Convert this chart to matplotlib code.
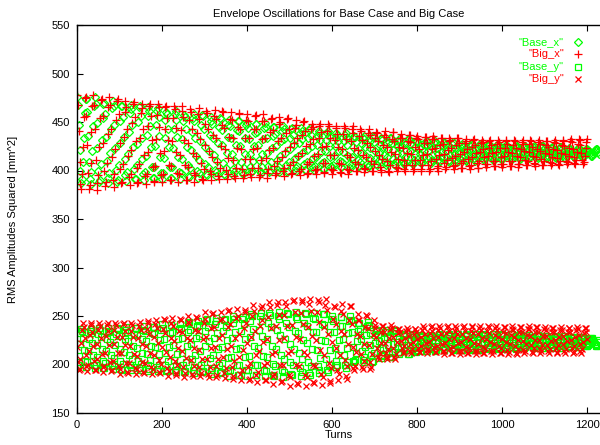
import numpy as np
import matplotlib
matplotlib.use('Agg')
import matplotlib.pyplot as plt

plt.rcParams['font.family'] = ['Liberation Sans', 'DejaVu Sans']

# RMS amplitude squared [mm^2].
# *_a lists: turns 0, 4, 8, ...   *_b lists: turns 2, 6, 10, ...
big_x_a = [
    478, 441, 386, 396, 455, 476, 426, 381, 408, 467, 468, 411, 380, 424, 473, 456, 400, 388, 438, 476, 443, 390, 396, 452, 474,
    428, 387, 407, 460, 465, 415, 385, 421, 469, 455, 403, 388, 434, 469, 443, 394, 396, 446, 469, 431, 388, 405, 457, 465, 418,
    388, 420, 465, 454, 406, 390, 430, 466, 444, 397, 396, 442, 467, 431, 390, 404, 452, 460, 418, 388, 415, 458, 453, 408, 390,
    426, 461, 443, 399, 396, 437, 462, 433, 394, 403, 447, 460, 422, 391, 413, 453, 452, 411, 392, 423, 459, 443, 402, 395, 434,
    458, 433, 396, 403, 443, 457, 423, 393, 411, 451, 451, 413, 392, 421, 453, 442, 405, 397, 430, 455, 434, 399, 403, 439, 454,
    424, 396, 409, 444, 447, 415, 395, 418, 450, 441, 407, 397, 427, 448, 432, 401, 402, 434, 448, 424, 397, 408, 441, 446, 416,
    396, 416, 444, 438, 408, 397, 422, 446, 432, 402, 401, 430, 446, 423, 399, 407, 436, 441, 416, 398, 414, 439, 437, 410, 399,
    420, 440, 430, 404, 401, 426, 441, 424, 400, 406, 432, 440, 417, 400, 412, 434, 434, 411, 400, 418, 437, 429, 406, 402, 424,
    436, 422, 402, 406, 428, 435, 417, 400, 410, 432, 432, 412, 400, 416, 433, 427, 408, 404, 421, 434, 423, 405, 406, 426, 433,
    417, 403, 410, 428, 430, 412, 402, 414, 431, 426, 408, 403, 419, 431, 422, 407, 407, 423, 431, 418, 405, 410, 427, 429, 414,
    404, 415, 430, 427, 410, 405, 418, 431, 423, 407, 407, 422, 431, 420, 406, 410, 427, 430, 415, 405, 414, 429, 427, 412, 406,
    418, 430, 424, 409, 408, 422, 431, 421, 407, 410, 426, 430, 417, 407, 415, 430, 429, 414, 407, 419, 432, 426, 411, 409, 423,
    432,
]
big_x_b = [
    468, 409, 381, 424, 475, 456, 397, 385, 440, 478, 443, 387, 395, 454, 474, 428, 384, 408, 465, 468, 414, 383, 422, 472, 458,
    402, 388, 435, 472, 443, 393, 396, 449, 471, 430, 387, 407, 459, 464, 416, 386, 419, 466, 456, 404, 389, 432, 469, 445, 395,
    396, 443, 466, 431, 390, 405, 454, 463, 419, 388, 416, 461, 455, 406, 390, 428, 463, 443, 397, 395, 439, 464, 432, 391, 402,
    448, 459, 420, 390, 414, 456, 453, 409, 391, 425, 461, 444, 401, 396, 435, 460, 433, 394, 403, 445, 458, 422, 392, 412, 452,
    451, 412, 393, 422, 456, 443, 403, 395, 432, 458, 434, 397, 402, 440, 454, 423, 395, 410, 448, 450, 414, 394, 420, 453, 443,
    406, 397, 428, 452, 433, 400, 402, 437, 451, 425, 396, 409, 443, 445, 415, 396, 417, 446, 440, 408, 398, 425, 448, 433, 402,
    401, 431, 446, 424, 398, 407, 438, 444, 416, 396, 414, 443, 439, 409, 399, 421, 443, 431, 403, 402, 428, 443, 424, 400, 407,
    433, 439, 416, 398, 412, 437, 435, 410, 398, 419, 440, 430, 404, 403, 424, 438, 423, 402, 406, 430, 437, 417, 400, 411, 434,
    432, 411, 400, 416, 435, 428, 406, 402, 422, 436, 423, 403, 405, 426, 433, 417, 402, 411, 430, 431, 413, 402, 415, 433, 428,
    408, 403, 419, 432, 422, 405, 406, 424, 432, 418, 403, 410, 428, 429, 414, 404, 415, 430, 426, 410, 405, 419, 431, 423, 407,
    407, 423, 431, 419, 405, 410, 426, 430, 415, 404, 414, 429, 427, 411, 406, 419, 431, 424, 408, 407, 422, 431, 420, 406, 410,
    426, 430, 417, 406, 414, 429, 428, 413, 406, 418, 431, 425, 410, 409, 423, 432, 422, 408, 411, 427, 431, 418, 407, 415, 429,
]

base_x_a = [
    476, 447, 399, 391, 434, 474, 460, 409, 386, 420, 467, 469, 423, 388, 407, 454, 470, 435, 392, 397, 443, 472, 447, 401, 390,
    428, 466, 455, 412, 389, 417, 459, 463, 424, 391, 406, 450, 467, 434, 396, 398, 437, 465, 446, 404, 392, 425, 461, 455, 414,
    391, 413, 452, 458, 424, 392, 404, 443, 461, 435, 398, 397, 432, 457, 443, 406, 393, 421, 454, 451, 415, 392, 411, 447, 456,
    424, 396, 404, 437, 455, 434, 401, 398, 428, 454, 442, 408, 395, 418, 447, 446, 417, 395, 410, 442, 451, 425, 398, 403, 434,
    449, 432, 404, 400, 425, 448, 440, 411, 397, 417, 444, 445, 418, 398, 409, 436, 445, 425, 401, 404, 430, 446, 432, 406, 399,
    422, 443, 437, 413, 400, 415, 439, 441, 419, 401, 409, 434, 444, 425, 404, 405, 426, 441, 431, 408, 402, 420, 439, 436, 414,
    403, 415, 434, 437, 420, 404, 409, 430, 439, 426, 407, 406, 424, 436, 429, 411, 405, 418, 434, 432, 415, 404, 413, 431, 435,
    420, 407, 410, 426, 434, 424, 409, 408, 422, 433, 428, 412, 406, 417, 430, 430, 417, 407, 414, 428, 432, 420, 408, 411, 424,
    430, 423, 411, 409, 420, 430, 426, 414, 408, 416, 428, 428, 417, 409, 414, 425, 429, 420, 410, 411, 422, 429, 423, 412, 410,
    418, 426, 424, 415, 410, 416, 425, 426, 417, 410, 414, 423, 427, 420, 412, 413, 421, 427, 423, 414, 411, 419, 426, 425, 416,
    412, 416, 424, 425, 419, 412, 415, 422, 426, 421, 413, 413, 420, 425, 422, 416, 413, 418, 424, 424, 417, 413, 416, 423, 425,
    418, 413, 415, 421, 424, 420, 414, 414, 419, 424, 422, 416, 413, 418, 422, 422, 417, 414, 416, 421, 423, 419, 414, 415, 420,
    422, 420, 416, 415, 419, 422, 421, 417,
]
base_x_b = [
    468, 421, 387, 409, 459, 474, 436, 391, 398, 446, 476, 449, 400, 390, 431, 469, 458, 410, 387, 418, 464, 466, 423, 388, 406,
    451, 467, 435, 395, 398, 440, 468, 447, 402, 391, 427, 465, 456, 412, 390, 415, 456, 461, 424, 392, 404, 447, 464, 436, 397,
    397, 434, 460, 443, 404, 392, 423, 458, 452, 414, 391, 412, 451, 455, 424, 394, 403, 440, 458, 434, 399, 397, 430, 457, 443,
    407, 395, 420, 451, 448, 416, 394, 410, 445, 453, 426, 396, 403, 435, 452, 433, 402, 398, 426, 451, 441, 409, 396, 417, 447,
    444, 417, 398, 410, 439, 448, 426, 400, 404, 432, 449, 433, 405, 400, 423, 445, 438, 411, 398, 415, 441, 443, 418, 398, 409,
    434, 444, 426, 403, 405, 428, 444, 432, 407, 401, 421, 442, 437, 413, 401, 414, 436, 439, 419, 402, 409, 431, 441, 425, 405,
    406, 425, 439, 430, 410, 404, 419, 437, 434, 415, 403, 414, 434, 435, 419, 405, 409, 427, 436, 424, 407, 406, 423, 436, 429,
    412, 406, 418, 432, 431, 416, 406, 414, 429, 433, 421, 407, 410, 425, 432, 424, 410, 408, 421, 432, 427, 413, 407, 417, 430,
    428, 417, 408, 414, 426, 430, 420, 409, 411, 423, 430, 423, 411, 410, 419, 428, 426, 414, 409, 416, 427, 428, 417, 409, 413,
    423, 427, 420, 411, 412, 421, 427, 422, 413, 411, 418, 426, 424, 416, 411, 416, 425, 426, 418, 411, 414, 423, 427, 421, 412,
    413, 421, 426, 423, 415, 412, 418, 425, 424, 417, 412, 416, 424, 425, 419, 413, 415, 422, 425, 421, 414, 414, 420, 425, 422,
    415, 413, 418, 423, 423, 417, 413, 416, 422, 424, 419, 413, 415, 420, 423, 420, 415, 414, 419, 423, 421, 416, 414, 418, 422,
    421, 418, 415, 417, 421, 422, 419,
]

big_y_a = [
    218, 194, 206, 236, 239, 210, 193, 214, 241, 234, 204, 194, 221, 243, 227, 197, 198, 229, 243, 220, 193, 204, 236, 241, 212,
    190, 212, 242, 235, 202, 191, 219, 243, 228, 196, 195, 227, 244, 221, 192, 202, 237, 243, 212, 190, 210, 242, 238, 205, 191,
    218, 247, 232, 196, 193, 227, 248, 224, 191, 199, 235, 246, 214, 187, 207, 244, 243, 205, 188, 217, 249, 235, 197, 191, 226,
    254, 228, 190, 197, 238, 253, 218, 187, 206, 246, 247, 208, 186, 216, 255, 242, 197, 188, 227, 257, 231, 190, 194, 238, 256,
    222, 184, 202, 250, 255, 210, 182, 214, 258, 246, 199, 184, 226, 264, 238, 188, 190, 240, 264, 225, 182, 200, 251, 260, 212,
    178, 214, 265, 254, 199, 180, 226, 267, 242, 189, 187, 239, 268, 229, 182, 198, 254, 264, 215, 179, 210, 261, 256, 202, 181,
    223, 260, 242, 194, 190, 235, 262, 231, 188, 198, 246, 260, 218, 194, 213, 246, 246, 211, 195, 221, 251, 238, 203, 197, 230,
    241, 228, 208, 212, 233, 240, 222, 206, 216, 237, 238, 217, 206, 223, 237, 233, 217, 213, 227, 238, 229, 214, 216, 231, 237,
    226, 213, 219, 236, 238, 222, 212, 223, 239, 235, 218, 213, 228, 240, 231, 214, 214, 232, 240, 226, 212, 218, 235, 238, 222,
    211, 223, 239, 235, 218, 212, 226, 240, 232, 214, 214, 231, 240, 227, 212, 217, 235, 239, 223, 211, 221, 238, 236, 219, 212,
    226, 239, 232, 215, 213, 230, 240, 228, 212, 216, 234, 239, 224, 212, 221, 237, 237, 220, 212, 225, 239, 233, 216, 214, 229,
    239, 229, 214, 216, 233, 238, 225, 212, 220, 236, 236, 221, 212, 224, 238, 233, 217, 213, 228, 239, 230, 214, 216, 232, 238,
    226,
]
big_y_b = [
    203, 195, 222, 243, 227, 198, 200, 230, 243, 219, 194, 206, 236, 240, 211, 192, 212, 241, 235, 203, 194, 221, 243, 228, 198,
    195, 228, 243, 220, 192, 202, 235, 241, 211, 190, 209, 240, 236, 203, 191, 219, 245, 231, 197, 195, 228, 246, 222, 192, 201,
    237, 246, 213, 188, 208, 243, 240, 204, 189, 217, 247, 233, 197, 191, 227, 250, 225, 190, 198, 236, 248, 215, 188, 206, 243,
    247, 206, 187, 217, 252, 239, 198, 189, 227, 254, 230, 191, 196, 239, 256, 219, 185, 204, 248, 250, 208, 184, 215, 254, 243,
    197, 185, 228, 261, 235, 189, 192, 240, 260, 223, 184, 202, 249, 259, 211, 180, 213, 261, 251, 199, 183, 227, 264, 240, 189,
    187, 241, 267, 228, 181, 198, 253, 264, 213, 178, 210, 262, 255, 200, 181, 225, 267, 244, 190, 187, 239, 268, 231, 183, 196,
    247, 259, 217, 184, 210, 255, 252, 205, 185, 221, 260, 242, 196, 198, 231, 252, 229, 197, 204, 239, 250, 220, 195, 211, 246,
    238, 217, 206, 222, 240, 233, 212, 208, 227, 241, 228, 208, 211, 232, 237, 224, 212, 219, 235, 236, 221, 212, 223, 237, 233,
    217, 213, 228, 240, 231, 215, 216, 232, 240, 227, 213, 219, 236, 238, 221, 211, 222, 239, 235, 217, 212, 227, 240, 231, 214,
    214, 231, 240, 227, 212, 217, 235, 239, 222, 211, 221, 238, 236, 218, 212, 226, 240, 232, 214, 214, 230, 240, 228, 212, 217,
    234, 239, 223, 211, 221, 237, 236, 219, 211, 225, 239, 233, 215, 214, 230, 240, 229, 213, 217, 234, 239, 225, 212, 220, 237,
    236, 220, 212, 224, 238, 233, 217, 213, 228, 239, 229, 214, 216, 233, 238, 225, 212, 219, 236, 237, 221, 212, 223, 238, 234,
]

base_y_a = [
    196, 209, 232, 235, 215, 197, 203, 226, 237, 222, 200, 199, 220, 238, 228, 204, 196, 214, 235, 233, 210, 195, 207, 231, 237,
    216, 195, 201, 226, 239, 224, 199, 197, 219, 238, 230, 204, 194, 212, 236, 235, 211, 193, 205, 232, 239, 218, 195, 200, 225,
    242, 226, 199, 194, 218, 241, 233, 205, 192, 211, 237, 238, 212, 192, 203, 234, 244, 221, 194, 197, 227, 245, 229, 200, 193,
    219, 246, 239, 207, 190, 210, 242, 245, 216, 191, 202, 235, 247, 225, 193, 194, 227, 250, 234, 199, 189, 217, 247, 242, 208,
    188, 209, 245, 250, 219, 189, 200, 236, 253, 229, 194, 193, 226, 253, 239, 201, 188, 216, 250, 247, 210, 187, 206, 243, 252,
    221, 190, 199, 235, 254, 232, 196, 192, 225, 253, 240, 203, 189, 216, 248, 247, 215, 191, 207, 242, 252, 224, 194, 200, 233,
    250, 233, 204, 199, 225, 249, 240, 210, 196, 217, 245, 246, 218, 203, 212, 235, 243, 226, 205, 208, 230, 244, 232, 210, 204,
    222, 235, 231, 215, 207, 217, 233, 234, 220, 208, 213, 229, 236, 223, 213, 213, 224, 231, 226, 215, 211, 220, 230, 228, 217,
    214, 219, 228, 229, 222, 214, 217, 226, 230, 224, 216, 215, 223, 231, 227, 218, 215, 222, 230, 229, 221, 215, 220, 228, 231,
    223, 215, 218, 226, 231, 226, 217, 216, 224, 231, 228, 219, 215, 222, 230, 230, 222, 216, 220, 228, 231, 224, 217, 218, 226,
    231, 226, 218, 217, 224, 231, 228, 220, 216, 222, 230, 230, 222, 217, 220, 227, 230, 224, 218, 219, 226, 230, 226, 219, 217,
    223, 229, 227, 220, 217, 221, 228, 228, 222, 217, 220, 226, 229, 224, 219, 219, 224, 228, 225, 220, 218, 223, 228, 227, 221,
    219, 222, 226, 227, 223, 219, 220, 225,
]
base_y_b = [
    200, 221, 237, 227, 204, 197, 214, 235, 232, 210, 196, 208, 231, 236, 216, 196, 202, 226, 238, 223, 199, 198, 220, 238, 229,
    204, 194, 213, 236, 234, 210, 194, 206, 231, 238, 217, 196, 201, 226, 240, 224, 199, 195, 219, 239, 231, 204, 193, 211, 236,
    238, 212, 193, 204, 232, 241, 220, 194, 198, 226, 242, 227, 200, 193, 219, 243, 236, 206, 191, 210, 240, 241, 214, 192, 203,
    235, 247, 224, 194, 196, 227, 248, 232, 200, 192, 218, 246, 239, 207, 188, 208, 243, 247, 216, 189, 200, 235, 249, 226, 194,
    194, 228, 252, 237, 200, 189, 217, 250, 245, 209, 188, 208, 243, 251, 219, 189, 198, 236, 254, 230, 194, 192, 226, 253, 239,
    203, 189, 216, 249, 247, 212, 188, 206, 243, 252, 222, 191, 198, 234, 253, 233, 198, 194, 225, 252, 241, 206, 192, 215, 247,
    245, 217, 197, 210, 240, 249, 226, 199, 203, 232, 250, 234, 204, 205, 224, 243, 237, 214, 203, 218, 240, 241, 220, 203, 212,
    230, 236, 224, 209, 210, 226, 236, 228, 212, 208, 221, 235, 232, 217, 211, 218, 229, 230, 220, 211, 215, 226, 231, 223, 213,
    215, 224, 230, 226, 217, 214, 221, 229, 228, 219, 214, 219, 228, 230, 223, 215, 218, 227, 231, 225, 217, 216, 224, 231, 227,
    219, 215, 222, 230, 229, 221, 215, 219, 228, 231, 223, 216, 217, 227, 231, 226, 218, 217, 224, 231, 228, 220, 216, 222, 230,
    230, 222, 216, 220, 228, 231, 224, 217, 218, 226, 231, 227, 218, 218, 224, 230, 228, 221, 217, 222, 229, 229, 222, 217, 220,
    226, 229, 224, 218, 218, 225, 229, 226, 219, 217, 223, 229, 227, 221, 218, 221, 227, 228, 222, 218, 220, 226, 228, 224, 219,
    220, 224, 227, 225, 221, 219, 223,
]

labels = ['"Base_x"', '"Big_x"', '"Base_y"', '"Big_y"']
xticks = [0, 200, 400, 600, 800, 1000, 1200]
yticks = [150, 200, 250, 300, 350, 400, 450, 500, 550]

GREEN = '#00ff00'
RED = '#ff0000'

fig = plt.figure(figsize=(6, 4.45), dpi=100)
ax = fig.add_axes([77 / 600, 1 - 413 / 445, 523 / 600, 388 / 445])

styles = [
    dict(marker='D', ms=4, mfc='none', mec=GREEN, mew=0.9),
    dict(marker='+', ms=5.5, mec=RED, mew=0.9),
    dict(marker='s', ms=4, mfc='none', mec=GREEN, mew=0.9),
    dict(marker='x', ms=4, mec=RED, mew=0.9),
]
series = [(base_x_a, base_x_b), (big_x_a, big_x_b), (base_y_a, base_y_b), (big_y_a, big_y_b)]

# plotted in gnuplot order: Base_x, Big_x, Base_y, Big_y
for (va, vb), st in zip(series, styles):
    t = np.concatenate([np.arange(len(va)) * 4, np.arange(len(vb)) * 4 + 2])
    v = np.concatenate([va, vb])
    ax.plot(t, v, ls='none', **st)

ax.set_xlim(0, 1230)
ax.set_ylim(150, 550)
ax.set_xticks(xticks)
ax.set_yticks(yticks)
ax.tick_params(direction='in', length=4, top=True, right=False, labelsize=8, pad=5)
ax.spines['right'].set_visible(False)
for s in ax.spines.values():
    s.set_linewidth(1.0)

ax.set_title('Envelope Oscillations for Base Case and Big Case', fontsize=8, pad=6)
ax.set_xlabel('Turns', fontsize=8)
ax.set_ylabel('RMS Amplitudes Squared [mm^2]', fontsize=8)
ax.xaxis.set_label_coords(0.5, -0.045)
ax.yaxis.set_label_coords(-0.112, 0.5)

# gnuplot-style key: label text right-aligned, sample point to its right
key_y = [0.955, 0.924, 0.8925, 0.861]
colors = [GREEN, RED, GREEN, RED]
for lab, yk, c, st in zip(labels, key_y, colors, styles):
    ax.text(0.931, yk, lab, color=c, fontsize=8, ha='right', va='center',
            transform=ax.transAxes)
    ax.plot([0.958], [yk], ls='none', transform=ax.transAxes, clip_on=False, **st)

fig.savefig('out.png', dpi=100)
